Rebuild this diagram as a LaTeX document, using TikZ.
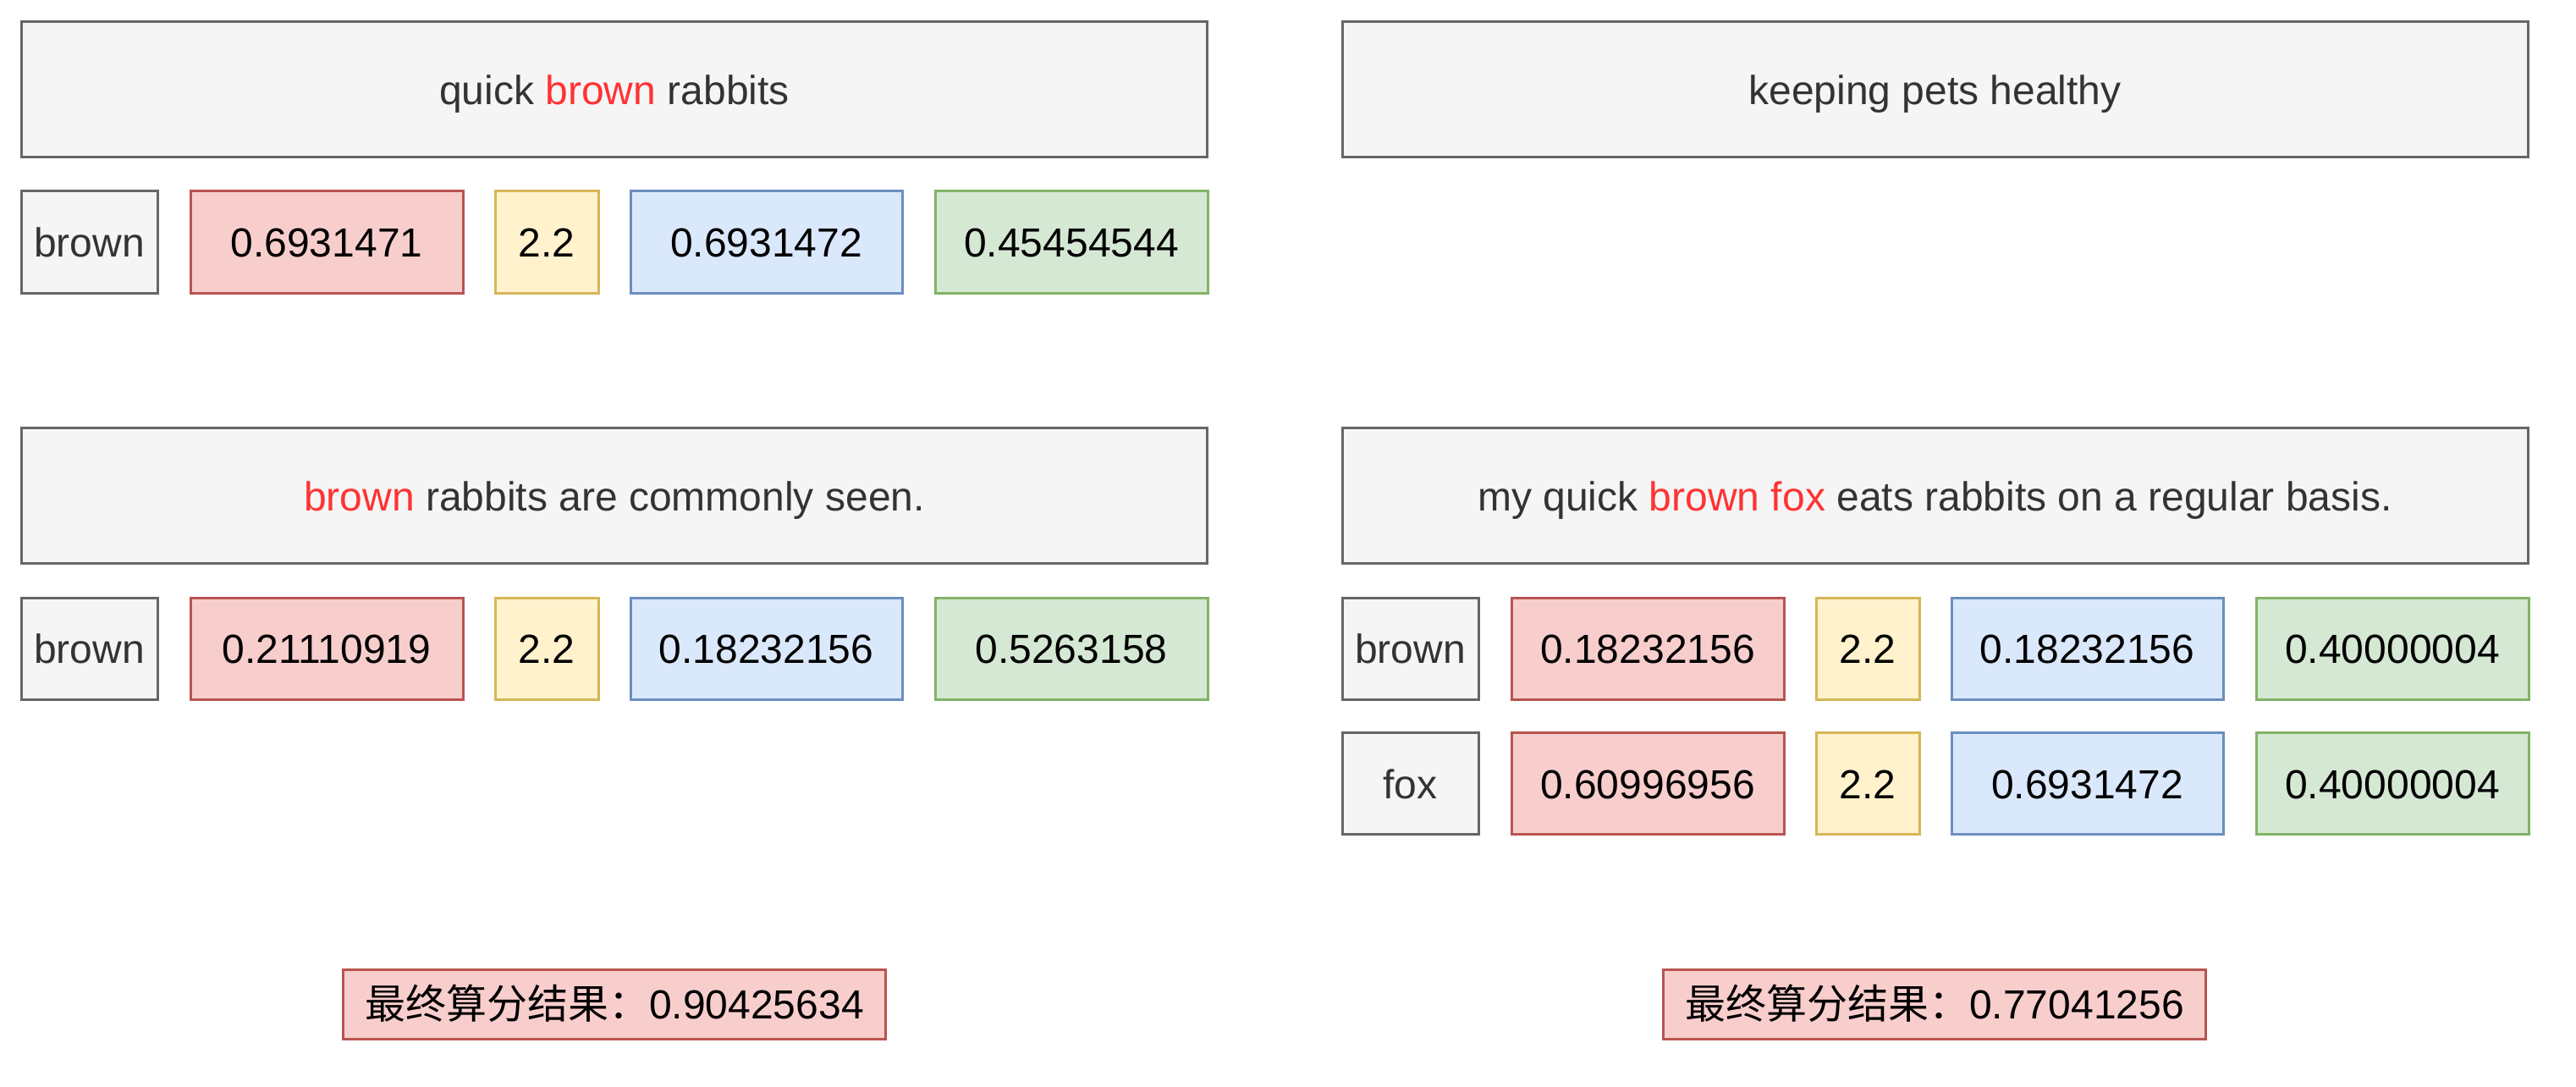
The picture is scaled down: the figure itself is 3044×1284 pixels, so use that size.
\documentclass[tikz,border=0pt]{standalone}
\usepackage{fontspec}
\setmainfont{Liberation Sans}
\newfontfamily\cjk{Noto Sans CJK SC}
\definecolor{gfill}{HTML}{F5F5F5}\definecolor{gline}{HTML}{666666}\definecolor{gtext}{HTML}{333333}
\definecolor{rfill}{HTML}{F8CECC}\definecolor{rline}{HTML}{B85450}
\definecolor{yfill}{HTML}{FFF2CC}\definecolor{yline}{HTML}{D6B656}
\definecolor{bfill}{HTML}{DAE8FC}\definecolor{bline}{HTML}{6C8EBF}
\definecolor{nfill}{HTML}{D5E8D4}\definecolor{nline}{HTML}{82B366}
\definecolor{hl}{HTML}{FF3333}
\tikzset{
  cell/.style={draw, line width=3pt, inner sep=0pt, minimum height=120pt, font=\fontsize{48}{56}\selectfont, text=black, text height=35pt, text depth=0pt},
  graybox/.style={cell, fill=gfill, draw=gline, text=gtext, minimum width=161pt},
  redbox/.style={cell, fill=rfill, draw=rline, minimum width=322pt},
  yelbox/.style={cell, fill=yfill, draw=yline, minimum width=122pt},
  bluebox/.style={cell, fill=bfill, draw=bline, minimum width=321pt},
  grnbox/.style={cell, fill=nfill, draw=nline, minimum width=322pt},
  bigbox/.style={cell, fill=gfill, draw=gline, text=gtext, minimum width=1401pt, minimum height=160pt},
  resbox/.style={cell, fill=rfill, draw=rline, minimum width=641pt, minimum height=82pt},
}
\newcommand\myrow[8]{%
  \node[graybox] (#1w) at (#2+105.5,#3) {#4};
  \node[redbox]  (#1r) at (#2+386,#3) {#5};
  \node[yelbox]  (#1y) at (#2+646,#3) {#6};
  \node[bluebox] (#1b) at (#2+905.5,#3) {#7};
  \node[grnbox]  (#1g) at (#2+1266,#3) {#8};
}
\begin{document}
\begin{tikzpicture}[x=1pt,y=-1pt]
\useasboundingbox[fill=white] (0,0) rectangle (3044,1284);
\node[bigbox] (s1) at (726,106) {quick \textcolor{hl}{brown} rabbits};
\node[bigbox] (s2) at (2286.5,106) {keeping pets healthy};
\node[bigbox] (s3) at (726,585.5) {\textcolor{hl}{brown} rabbits are commonly seen.};
\node[bigbox] (s4) at (2286.5,585.5) {my quick \textcolor{hl}{brown fox} eats rabbits on a regular basis.};
\myrow{a}{0}{286}{brown}{0.6931471}{2.2}{0.6931472}{0.45454544}
\myrow{b}{0}{766}{brown}{0.21110919}{2.2}{0.18232156}{0.5263158}
\myrow{c}{1561}{766}{brown}{0.18232156}{2.2}{0.18232156}{0.40000004}
\myrow{d}{1561}{925.5}{fox}{0.60996956}{2.2}{0.6931472}{0.40000004}
\node[resbox] (r1) at (726,1186) {{\cjk 最终算分结果：}0.90425634};
\node[resbox] (r2) at (2286,1186) {{\cjk 最终算分结果：}0.77041256};
\end{tikzpicture}
\end{document}
